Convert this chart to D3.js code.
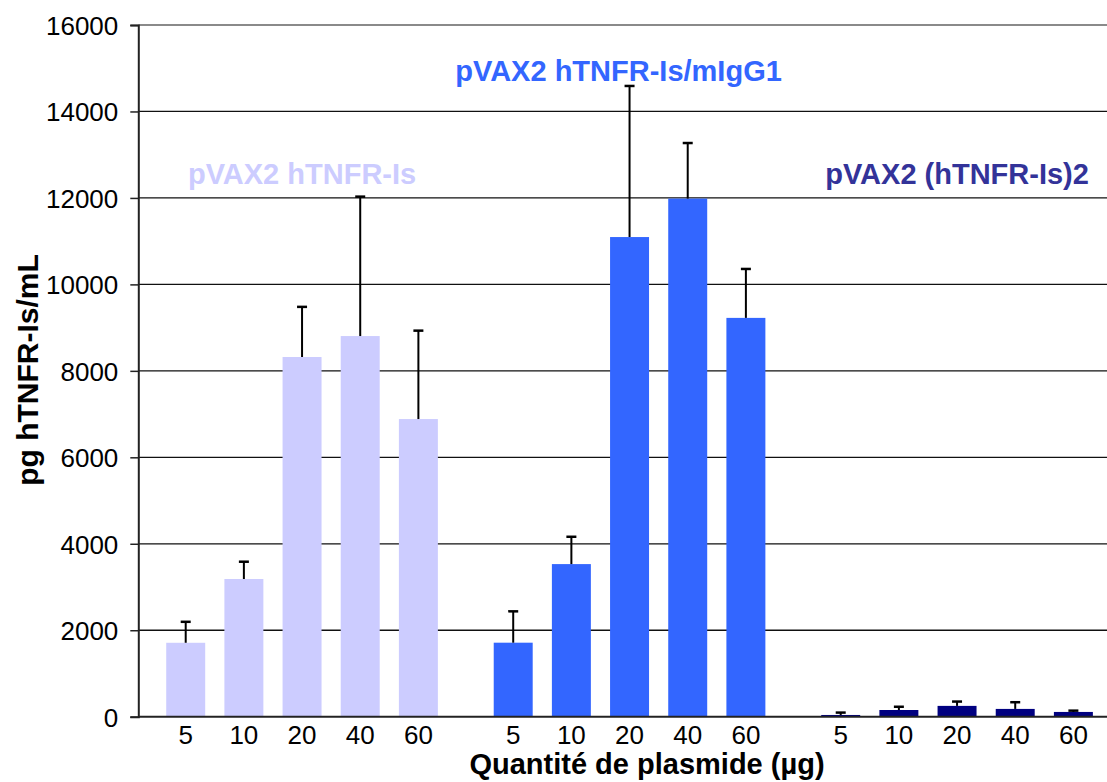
<!DOCTYPE html>
<html>
<head>
<meta charset="utf-8">
<script src="https://cdn.jsdelivr.net/npm/d3@7/dist/d3.min.js"></script>
<style>
  html, body { margin: 0; padding: 0; background: #fff; }
  svg { display: block; font-family: "Liberation Sans", Arial, Helvetica, sans-serif; }
</style>
</head>
<body>
<svg id="chart" width="1107" height="782"></svg>
<script>
// Plasmid doses (µg) shown under each construct
const doses = ["5", "10", "20", "40", "60"];
// Constructs, one cluster of bars each
const constructs = ["pVAX2 hTNFR-Is", "pVAX2 hTNFR-Is/mIgG1", "pVAX2 (hTNFR-Is)2"];
const constructColors = ["#CCCCFF", "#3366FF", "#000080"];
const labelColors = ["#CCCCFF", "#3366FF", "#333399"];

// Mean concentration (pg/mL) per dose, and upper error (SD)
const meanIs = [1710, 3185, 8320, 8805, 6885];
const sdIs = [485, 400, 1160, 3225, 2045];
const meanIgG = [1712, 3530, 11095, 11985, 9225];
const sdIgG = [725, 632, 3495, 1285, 1132];
const meanDimer = [40, 155, 250, 180, 110];
const sdDimer = [55, 75, 100, 155, 30];

const yTicks = [0, 2000, 4000, 6000, 8000, 10000, 12000, 14000, 16000];

const means = [meanIs, meanIgG, meanDimer];
const sds = [sdIs, sdIgG, sdDimer];

const rows = [];
constructs.forEach((c, gi) => {
  doses.forEach((d, di) => {
    rows.push({ construct: c, dose: d, gi, mean: means[gi][di], sd: sds[gi][di] });
  });
});

const svg = d3.select("#chart");
const plotLeft = 138.3, groupW = 327.5;
const plotTop = 25, plotBottom = 716.7;

const x0 = d3.scaleBand()
  .domain(constructs)
  .range([plotLeft, plotLeft + groupW * constructs.length])
  .padding(0);

const x1 = d3.scaleBand()
  .domain(doses)
  .range([0, x0.bandwidth()])
  .paddingInner(0.33)
  .paddingOuter(0.48);

const y = d3.scaleLinear().domain([0, 16000]).range([plotBottom, plotTop]);

const cx = d => x0(d.construct) + x1(d.dose) + x1.bandwidth() / 2;

// Horizontal gridlines
svg.append("g")
  .selectAll("line")
  .data(yTicks.filter(t => t > 0))
  .join("line")
  .attr("x1", plotLeft)
  .attr("x2", 1107)
  .attr("y1", d => y(d))
  .attr("y2", d => y(d))
  .attr("stroke", d => d === 16000 ? "#8a8a8a" : "#111")
  .attr("stroke-width", d => d === 16000 ? 2 : 1.3);

// Bars
svg.append("g")
  .selectAll("rect")
  .data(rows)
  .join("rect")
  .attr("x", d => x0(d.construct) + x1(d.dose))
  .attr("y", d => y(d.mean))
  .attr("width", x1.bandwidth())
  .attr("height", d => y(0) - y(d.mean))
  .attr("fill", d => constructColors[d.gi]);

// Upper error bars
const eb = svg.append("g").attr("stroke", "#000");
eb.selectAll("line.stem")
  .data(rows)
  .join("line")
  .attr("class", "stem")
  .attr("x1", cx)
  .attr("x2", cx)
  .attr("y1", d => y(d.mean))
  .attr("y2", d => y(d.mean + d.sd))
  .attr("stroke-width", 2);
eb.selectAll("line.cap")
  .data(rows)
  .join("line")
  .attr("class", "cap")
  .attr("x1", d => cx(d) - 5)
  .attr("x2", d => cx(d) + 5)
  .attr("y1", d => y(d.mean + d.sd))
  .attr("y2", d => y(d.mean + d.sd))
  .attr("stroke-width", 2.5);

// Y axis
const yAxis = svg.append("g")
  .attr("transform", `translate(${plotLeft},0)`)
  .call(d3.axisLeft(y).tickValues(yTicks).tickSize(8).tickPadding(12).tickFormat(d3.format("d")));
yAxis.select(".domain").attr("stroke", "#222").attr("stroke-width", 2);
yAxis.selectAll(".tick line").attr("stroke", "#222").attr("stroke-width", 1.5);
yAxis.selectAll(".tick text")
  .attr("font-size", 26)
  .attr("font-family", "Liberation Sans, Arial, sans-serif")
  .attr("fill", "#000")
  .attr("dy", "0.36em");

// X baseline
svg.append("line")
  .attr("x1", plotLeft).attr("x2", 1107)
  .attr("y1", y(0)).attr("y2", y(0))
  .attr("stroke", "#222").attr("stroke-width", 2);

// Dose labels under each bar
svg.append("g")
  .selectAll("text")
  .data(rows)
  .join("text")
  .attr("x", cx)
  .attr("y", 744)
  .attr("text-anchor", "middle")
  .attr("font-size", 26)
  .attr("fill", "#000")
  .text(d => d.dose);

// Construct labels inside the plot
const labelPos = [
  { dx: 0, y: 184 },
  { dx: -11, y: 81 },
  { dx: 0, y: 184 }
];
svg.append("g")
  .selectAll("text")
  .data(constructs)
  .join("text")
  .attr("x", (d, i) => x0(d) + x0.bandwidth() / 2 + labelPos[i].dx)
  .attr("y", (d, i) => labelPos[i].y)
  .attr("text-anchor", "middle")
  .attr("font-size", 29)
  .attr("font-weight", "bold")
  .attr("fill", (d, i) => labelColors[i])
  .text(d => d);

// Axis titles
svg.append("text")
  .attr("transform", "translate(38,370) rotate(-90)")
  .attr("text-anchor", "middle")
  .attr("font-size", 30)
  .attr("font-weight", "bold")
  .attr("fill", "#000")
  .text("pg hTNFR-Is/mL");

svg.append("text")
  .attr("x", 647)
  .attr("y", 774)
  .attr("text-anchor", "middle")
  .attr("font-size", 29)
  .attr("font-weight", "bold")
  .attr("fill", "#000")
  .text("Quantité de plasmide (µg)");
</script>
</body>
</html>
